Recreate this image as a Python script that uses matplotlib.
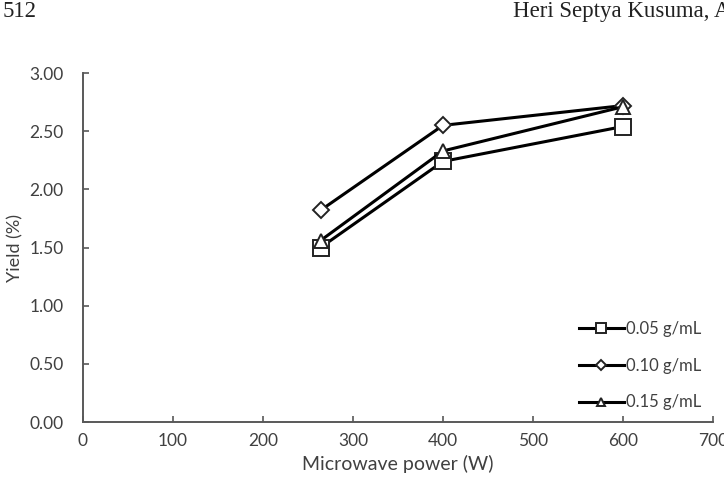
#!/usr/bin/env python3
import matplotlib
matplotlib.use("Agg")
import matplotlib.pyplot as plt

power = [264, 400, 600]
yield_005 = [1.50, 2.24, 2.54]
yield_010 = [1.82, 2.55, 2.72]
yield_015 = [1.56, 2.33, 2.71]
series_labels = ["0.05 g/mL", "0.10 g/mL", "0.15 g/mL"]
xticks = [0, 100, 200, 300, 400, 500, 600, 700]
yticks = [0.0, 0.5, 1.0, 1.5, 2.0, 2.5, 3.0]

plt.rcParams["font.family"] = ["Lato", "DejaVu Sans"]
txt = "#404040"
axc = "#595959"

fig = plt.figure(figsize=(7.24, 4.88), dpi=100)
ax = fig.add_axes([0.1146, 0.1352, 0.8702, 0.7152])

ax.plot(power, yield_005, color="black", lw=2.2, marker="s", ms=11.5,
        mfc="white", mec="#222222", mew=1.4, label=series_labels[0])
ax.plot(power, yield_010, color="black", lw=2.2, marker="D", ms=8.5,
        mfc="white", mec="#222222", mew=1.4, label=series_labels[1])
ax.plot(power, yield_015, color="black", lw=2.2, marker="^", ms=10,
        mfc="white", mec="#222222", mew=1.4, label=series_labels[2])

ax.set_xlim(0, 700)
ax.set_ylim(0, 3.0)
ax.set_xticks(xticks)
ax.set_yticks(yticks)
ax.set_yticklabels(["{:.2f}".format(v) for v in yticks])
ax.tick_params(direction="in", length=4, width=1.2, color=axc,
               labelsize=12.5, labelcolor=txt)
ax.tick_params(axis="y", pad=14)
ax.tick_params(axis="x", pad=8)
for s in ("top", "right"):
    ax.spines[s].set_visible(False)
for s in ("left", "bottom"):
    ax.spines[s].set_color(axc)
    ax.spines[s].set_linewidth(1.4)

ax.set_xlabel("Microwave power (W)", fontsize=14, color=txt, labelpad=4)
ax.set_ylabel("Yield (%)", fontsize=13, color=txt, labelpad=4)

leg = ax.legend(loc="lower right", frameon=False, fontsize=12,
                handlelength=2.7, handletextpad=0.15, labelspacing=1.25,
                markerscale=0.6, borderaxespad=0.3,
                bbox_to_anchor=(1.0, 0.0))
for t in leg.get_texts():
    t.set_color(txt)

fig.text(0.004, 0.998, "512", family="Liberation Serif", fontsize=16.5,
         va="top", ha="left", color="#222222")
fig.text(0.708, 0.998, "Heri Septya Kusuma, A", family="Liberation Serif",
         fontsize=16.5, va="top", ha="left", color="#222222")

fig.savefig("out.png", dpi=100)
